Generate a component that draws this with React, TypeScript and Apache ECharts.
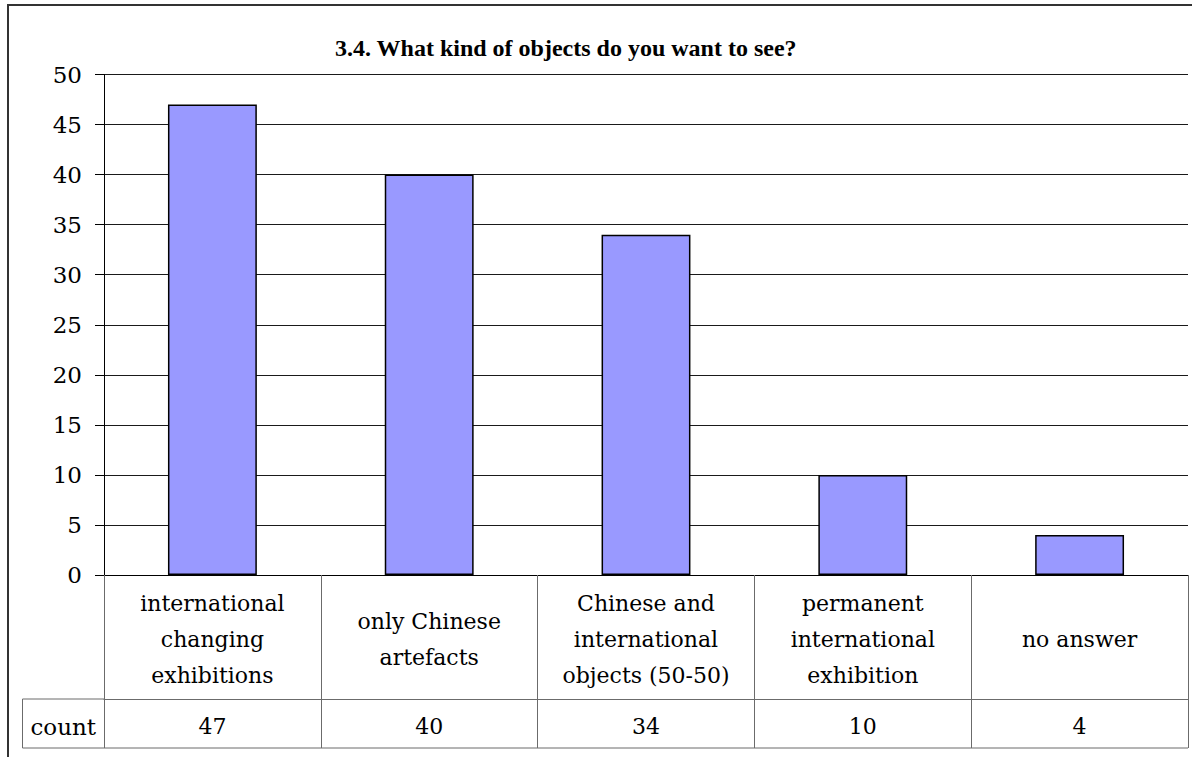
import React, { useEffect, useRef } from "react";
import * as echarts from "echarts";

const TITLE = "3.4. What kind of objects do you want to see?";
const categories = [
  "international\nchanging\nexhibitions",
  "only Chinese\nartefacts",
  "Chinese and\ninternational\nobjects (50-50)",
  "permanent\ninternational\nexhibition",
  "no answer",
];
const counts = [47, 40, 34, 10, 4];
const seriesName = "count";
const yMin = 0;
const yMax = 50;
const yStep = 5;

const W = 1192;
const H = 757;
const gridLeft = 104;
const gridRight = 1188;
const gridTop = 74.5;
const gridBottomY = 575;
const row1H = 124;
const row2H = 49;
const countCellLeft = 22.5;
const TITLE_FONT = "Liberation Serif";
const SERIF = "DejaVu Serif";

export default function App() {
  const ref = useRef<HTMLDivElement>(null);
  useEffect(() => {
    document.body.style.margin = "0";
    if (!ref.current) return;
    const chart = echarts.init(ref.current, undefined, { renderer: "svg" });
    const tableColor = "#6b6b6b";
    const row2Top = gridBottomY + row1H;
    const row2Bottom = row2Top + row2H;
    chart.setOption({
      animation: false,
      backgroundColor: "#ffffff",
      textStyle: { fontFamily: SERIF },
      title: {
        text: TITLE,
        left: 330,
        top: 31,
        textStyle: {
          fontFamily: TITLE_FONT,
          fontWeight: "bold",
          fontSize: 24,
          color: "#000",
        },
      },
      grid: {
        left: gridLeft,
        right: W - gridRight,
        top: gridTop,
        bottom: H - gridBottomY,
      },
      xAxis: [
        {
          type: "category",
          data: categories,
          position: "bottom",
          axisLine: { show: true, lineStyle: { color: "#000", width: 1 } },
          axisTick: {
            show: true,
            alignWithLabel: false,
            length: row1H + row2H,
            lineStyle: { color: tableColor, width: 1 },
          },
          axisLabel: {
            interval: 0,
            margin: row1H / 2 + 2,
            verticalAlign: "middle",
            fontFamily: SERIF,
            fontSize: 22,
            lineHeight: 36,
            color: "#000",
          },
        },
        {
          type: "category",
          data: counts.map((v) => String(v)),
          position: "bottom",
          offset: row1H,
          axisLine: { show: true, lineStyle: { color: tableColor, width: 1 } },
          axisTick: { show: false },
          axisLabel: {
            interval: 0,
            margin: row2H / 2 + 3,
            verticalAlign: "middle",
            fontFamily: SERIF,
            fontSize: 22,
            color: "#000",
          },
        },
      ],
      yAxis: {
        type: "value",
        min: yMin,
        max: yMax,
        interval: yStep,
        axisLine: { show: true, lineStyle: { color: "#000", width: 1 } },
        axisTick: { show: true, length: 9, lineStyle: { color: "#000" } },
        splitLine: { show: true, lineStyle: { color: "#1a1a1a", width: 1 } },
        axisLabel: {
          margin: 22,
          fontFamily: SERIF,
          fontSize: 23,
          color: "#000",
        },
      },
      series: [
        {
          name: seriesName,
          type: "bar",
          xAxisIndex: 0,
          data: counts,
          barWidth: "41%",
          itemStyle: {
            color: "#9999ff",
            borderColor: "#000",
            borderWidth: 1.5,
          },
        },
      ],
      graphic: [
        {
          type: "rect",
          shape: { x: 8, y: 5, width: W + 20, height: H + 20 },
          style: { fill: "none", stroke: "#333", lineWidth: 2 },
          silent: true,
        },
        {
          type: "line",
          shape: { x1: countCellLeft, y1: row2Top, x2: gridLeft, y2: row2Top },
          style: { stroke: tableColor, lineWidth: 1 },
        },
        {
          type: "line",
          shape: { x1: countCellLeft, y1: row2Bottom, x2: gridRight, y2: row2Bottom },
          style: { stroke: tableColor, lineWidth: 1 },
        },
        {
          type: "line",
          shape: { x1: countCellLeft, y1: row2Top, x2: countCellLeft, y2: row2Bottom },
          style: { stroke: tableColor, lineWidth: 1 },
        },
        {
          type: "text",
          x: (countCellLeft + gridLeft) / 2,
          y: row2Top + row2H / 2 + 3,
          style: {
            text: seriesName,
            font: "normal 23px DejaVu Serif",
            fill: "#000",
            align: "center",
            verticalAlign: "middle",
          },
        },
      ],
    });
    return () => chart.dispose();
  }, []);
  return <div ref={ref} style={{ width: W, height: H }} />;
}
